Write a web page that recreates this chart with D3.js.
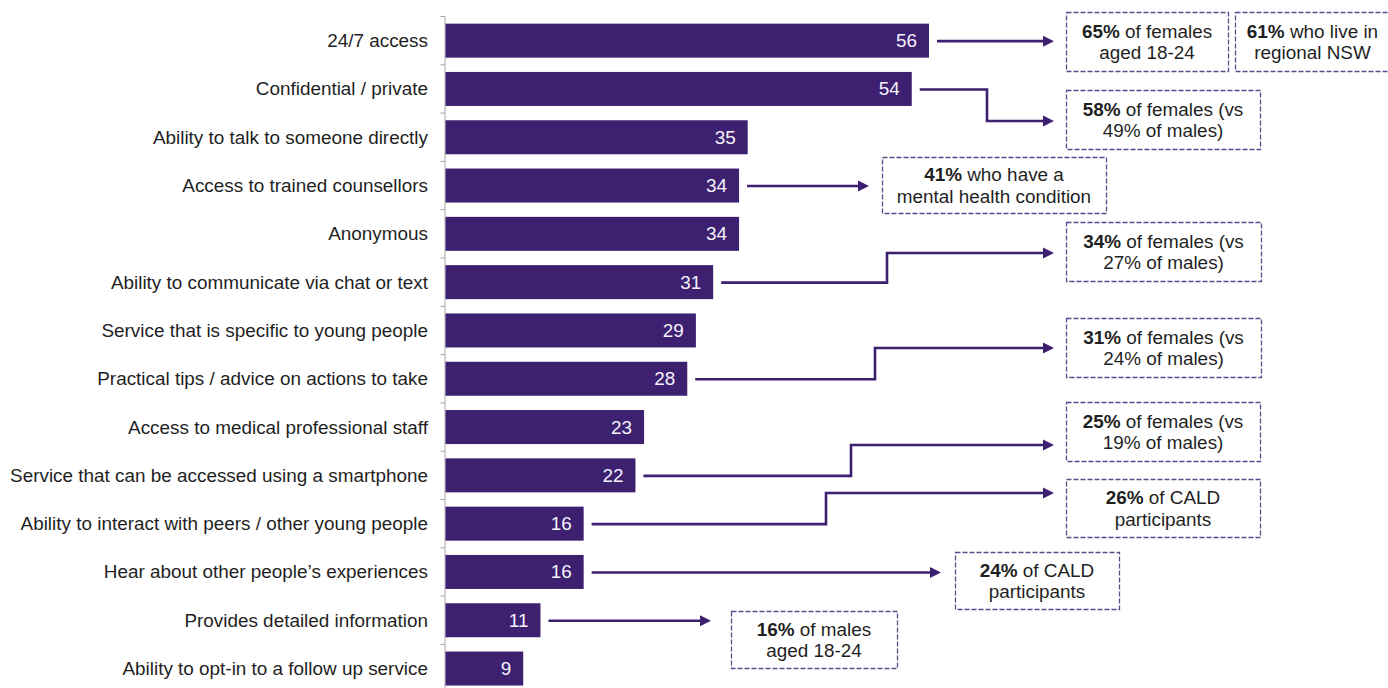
<!DOCTYPE html>
<html>
<head>
<meta charset="utf-8">
<script src="https://cdn.jsdelivr.net/npm/d3@7"></script>
<style>
  html, body { margin: 0; padding: 0; background: #ffffff; }
  svg { display: block; font-family: "Liberation Sans", Arial, sans-serif; }
</style>
</head>
<body>
<svg id="chart" width="1388" height="688"></svg>
<script>
// Service features rated as important (%)
const categories = [
  "24/7 access",
  "Confidential / private",
  "Ability to talk to someone directly",
  "Access to trained counsellors",
  "Anonymous",
  "Ability to communicate via chat or text",
  "Service that is specific to young people",
  "Practical tips / advice on actions to take",
  "Access to medical professional staff",
  "Service that can be accessed using a smartphone",
  "Ability to interact with peers / other young people",
  "Hear about other people\u2019s experiences",
  "Provides detailed information",
  "Ability to opt-in to a follow up service"
];
const values = [56, 54, 35, 34, 34, 31, 29, 28, 23, 22, 16, 16, 11, 9];

// Sub-group call-outs: row they point from (-1 = no arrow), bold figure, remaining text
const calloutRows = [0, -1, 1, 3, 5, 7, 9, 10, 11, 12];
const calloutBold = ["65%", "61%", "58%", "41%", "34%", "31%", "25%", "26%", "24%", "16%"];
const calloutLine1 = [" of females", " who live in", " of females (vs", " who have a",
                      " of females (vs", " of females (vs", " of females (vs", " of CALD",
                      " of CALD", " of males"];
const calloutLine2 = ["aged 18-24", "regional NSW", "49% of males)", "mental health condition",
                      "27% of males)", "24% of males)", "19% of males)", "participants",
                      "participants", "aged 18-24"];

// Call-out box placement and connector routing (pixels)
const calloutLayout = [
  { x: 1066, y: 12,  w: 162, h: 59, tip: 1054 },
  { x: 1235, y: 12,  w: 155, h: 59 },
  { x: 1066, y: 90,  w: 194, h: 59, tip: 1054, elbow: 987, ty: 121 },
  { x: 882,  y: 157, w: 224, h: 56, tip: 869 },
  { x: 1066, y: 222, w: 195, h: 59, tip: 1054, elbow: 887, ty: 253 },
  { x: 1066, y: 318, w: 195, h: 59, tip: 1054, elbow: 875, ty: 348 },
  { x: 1066, y: 402, w: 194, h: 59, tip: 1054, elbow: 851, ty: 445 },
  { x: 1066, y: 479, w: 194, h: 58, tip: 1054, elbow: 826, ty: 493 },
  { x: 955,  y: 552, w: 164, h: 57, tip: 941 },
  { x: 731,  y: 611, w: 166, h: 57, tip: 711 }
];

const PURPLE = "#3d2070";
const FONT = 18.9;

const svg = d3.select("#chart");

const x = d3.scaleLinear().domain([0, 56]).range([445.5, 929]);
const y = d3.scaleBand()
  .domain(categories)
  .range([16.5, 16.5 + 14 * 48.3])
  .paddingInner(0.296)
  .paddingOuter(0.148);

// Category axis on the left: grey line with short ticks between bands
const axisG = svg.append("g");
axisG.append("line")
  .attr("x1", 445).attr("x2", 445)
  .attr("y1", 16.5).attr("y2", 688)
  .attr("stroke", "#a6a6a6").attr("stroke-width", 1);
const bounds = d3.range(categories.length + 1).map(i => 16.5 + i * y.step());
axisG.selectAll("line.tick").data(bounds).join("line")
  .attr("class", "tick")
  .attr("x1", 440.5).attr("x2", 445)
  .attr("y1", d => d).attr("y2", d => d)
  .attr("stroke", "#a6a6a6").attr("stroke-width", 1);

axisG.selectAll("text.cat").data(categories).join("text")
  .attr("class", "cat")
  .attr("x", 428)
  .attr("y", d => y(d) + y.bandwidth() / 2 + 6.5)
  .attr("text-anchor", "end")
  .attr("font-size", FONT)
  .attr("fill", "#1f1f1f")
  .text(d => d);

// Bars
const rows = categories.map((c, i) => ({ c, v: values[i] }));
svg.append("g").selectAll("rect").data(rows).join("rect")
  .attr("x", x(0))
  .attr("y", d => y(d.c))
  .attr("width", d => x(d.v) - x(0))
  .attr("height", y.bandwidth())
  .attr("fill", PURPLE);

svg.append("g").selectAll("text").data(rows).join("text")
  .attr("x", d => x(d.v) - 12)
  .attr("y", d => y(d.c) + y.bandwidth() / 2 + 6.5)
  .attr("text-anchor", "end")
  .attr("font-size", FONT)
  .attr("fill", "#f4f2fa")
  .text(d => d.v);

// Connectors from bars to call-out boxes
const connG = svg.append("g");
calloutRows.forEach((row, i) => {
  const L = calloutLayout[i];
  if (row < 0) return;
  const cat = categories[row];
  const y0 = y(cat) + y.bandwidth() / 2 + 0.5;
  const x0 = x(values[row]) + 8;
  const ty = L.ty !== undefined ? L.ty : y0;
  const lineEnd = L.tip - 9;
  let pts;
  if (L.elbow !== undefined) {
    pts = [[x0, y0], [L.elbow, y0], [L.elbow, ty], [lineEnd, ty]];
  } else {
    pts = [[x0, y0], [lineEnd, ty]];
  }
  connG.append("path")
    .attr("d", d3.line()(pts))
    .attr("fill", "none")
    .attr("stroke", PURPLE)
    .attr("stroke-width", 2.6);
  connG.append("path")
    .attr("d", d3.line()([[L.tip, ty], [L.tip - 11, ty - 5.5], [L.tip - 11, ty + 5.5]]) + "Z")
    .attr("fill", PURPLE);
});

// Call-out boxes
const boxG = svg.append("g");
calloutLayout.forEach((L, i) => {
  boxG.append("rect")
    .attr("x", L.x + 0.5).attr("y", L.y + 0.5)
    .attr("width", L.w).attr("height", L.h)
    .attr("fill", "#ffffff")
    .attr("stroke", "#5b4a8c")
    .attr("stroke-width", 1.3)
    .attr("stroke-dasharray", "5,2");
  const cx = L.x + L.w / 2;
  const cy = L.y + L.h / 2;
  const t1 = boxG.append("text")
    .attr("x", cx).attr("y", cy - 10.5 + 6.5)
    .attr("text-anchor", "middle")
    .attr("font-size", FONT)
    .attr("fill", "#1f1f1f");
  t1.append("tspan").attr("font-weight", "bold").text(calloutBold[i]);
  t1.append("tspan").text(calloutLine1[i]);
  boxG.append("text")
    .attr("x", cx).attr("y", cy + 11 + 6.5)
    .attr("text-anchor", "middle")
    .attr("font-size", FONT)
    .attr("fill", "#1f1f1f")
    .text(calloutLine2[i]);
});
</script>
</body>
</html>
